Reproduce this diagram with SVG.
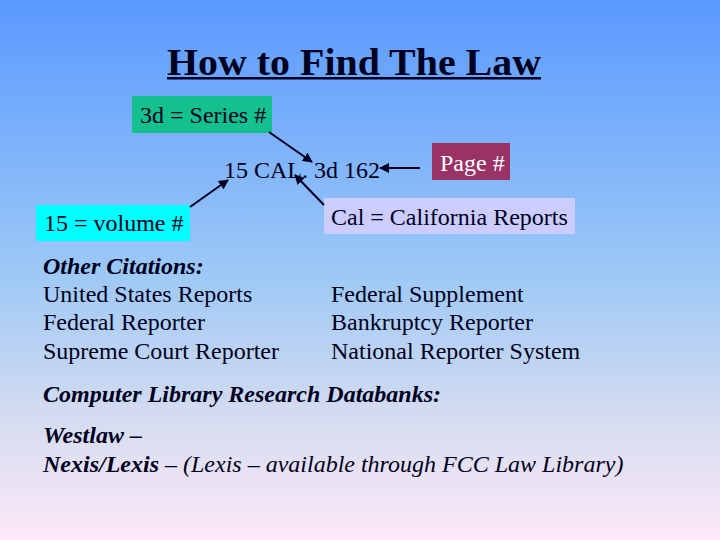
<svg xmlns="http://www.w3.org/2000/svg" width="720" height="540" viewBox="0 0 720 540">
<defs>
<linearGradient id="bg" x1="0" y1="0" x2="0" y2="1">
<stop offset="0" stop-color="#5a99ff"/>
<stop offset="0.5" stop-color="#9cc8f6"/>
<stop offset="0.78" stop-color="#d6dcf0"/>
<stop offset="1" stop-color="#fde9f8"/>
</linearGradient>
<marker id="ah" viewBox="0 0 10 10" refX="9" refY="5" markerWidth="5" markerHeight="5" orient="auto" markerUnits="strokeWidth">
<path d="M0,0 L10,5 L0,10 z" fill="#000022"/>
</marker>
<style>
text{font-family:"Liberation Serif","Times New Roman",serif;font-size:24px;fill:#000020}
.t{font-weight:bold;font-size:37px}
.bi{font-weight:bold;font-style:italic}
.i{font-style:italic;font-weight:normal}
.w{fill:#ffffff}
.c{stroke:#000022;stroke-width:2;fill:none;marker-end:url(#ah)}
</style>
</defs>
<rect x="0" y="0" width="720" height="540" fill="url(#bg)"/>
<g id="title">
<text class="t" x="167" y="75" textLength="374" lengthAdjust="spacingAndGlyphs">How to Find The Law</text>
<rect x="167" y="77" width="374" height="2.5" fill="#000020"/>
</g>
<g id="citation">
<text x="224" y="178">15 CAL. 3d 162</text>
</g>
<g id="series">
<rect x="132" y="96" width="140" height="37" fill="#14c08e"/>
<text x="140" y="123">3d = Series #</text>
</g>
<g id="page">
<rect x="432" y="143" width="78" height="37" fill="#993366"/>
<text class="w" x="440" y="171">Page #</text>
</g>
<g id="volume">
<rect x="36" y="205" width="154" height="36" fill="#00ffff"/>
<text x="44" y="231">15 = volume #</text>
</g>
<g id="cal">
<rect x="324" y="198" width="251" height="36" fill="#ccccff"/>
<text x="331" y="225">Cal = California Reports</text>
</g>
<g id="connectors">
<line class="c" x1="269" y1="132" x2="312" y2="162"/>
<line class="c" x1="420" y1="168" x2="380" y2="168"/>
<line class="c" x1="190" y1="207" x2="228" y2="180"/>
<line class="c" x1="324" y1="205" x2="295" y2="175"/>
</g>
<g id="other">
<text class="bi" x="43" y="274">Other Citations:</text>
<text x="43" y="302">United States Reports</text>
<text x="43" y="330">Federal Reporter</text>
<text x="43" y="359">Supreme Court Reporter</text>
</g>
<g id="other2">
<text x="331" y="302">Federal Supplement</text>
<text x="331" y="330">Bankruptcy Reporter</text>
<text x="331" y="359">National Reporter System</text>
</g>
<g id="computer">
<text class="bi" x="43" y="402">Computer Library Research Databanks:</text>
<text class="bi" x="43" y="443">Westlaw –</text>
<text class="bi" x="43" y="472">Nexis/Lexis<tspan class="i"> – (Lexis – available through FCC Law Library)</tspan></text>
</g>
</svg>
